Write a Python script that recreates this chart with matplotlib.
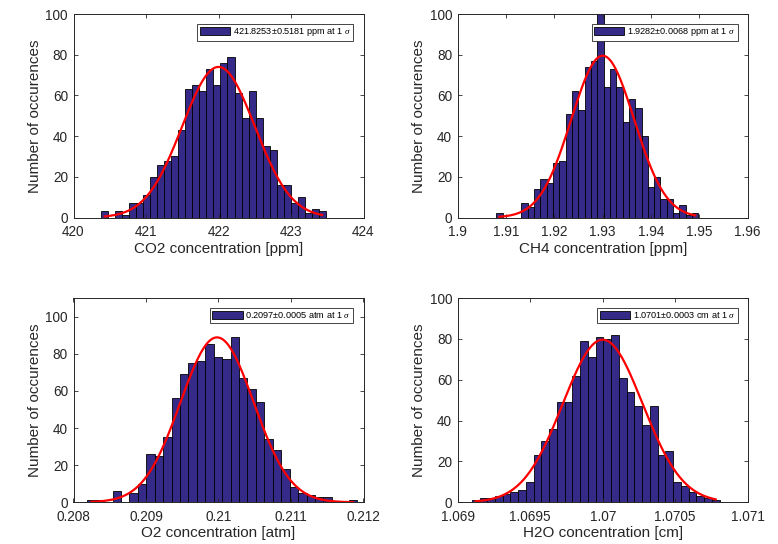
import numpy as np
import matplotlib
matplotlib.use("Agg")
import matplotlib.pyplot as plt
from matplotlib.ticker import FuncFormatter

plt.rcParams['font.family'] = ['Liberation Sans', 'DejaVu Sans']
plt.rcParams['mathtext.fontset'] = 'custom'
plt.rcParams['mathtext.it'] = 'Liberation Serif:italic'
plt.rcParams['mathtext.rm'] = 'Liberation Sans'

# ---- data ----
co2_counts = [3, 0, 3, 1, 7, 7, 11, 20, 26, 28, 30, 43, 63, 65, 62, 73,
              65, 76, 79, 61, 49, 62, 49, 35, 33, 16, 16, 7, 10, 2, 4, 3]
co2_range = (420.382, 423.479)
co2_fit = (422.0, 0.50, 74.0)  # mean, sigma, peak height

ch4_counts = [2, 0, 0, 0, 7, 5, 14, 19, 17, 27, 28, 51, 62, 53, 74, 77,
              104, 64, 73, 64, 47, 58, 54, 40, 15, 20, 9, 9, 2, 6, 1, 2]
ch4_range = (1.90797, 1.94980)
ch4_fit = (1.9300, 0.0065, 79.5)

o2_counts = [1, 1, 0, 6, 0, 5, 10, 26, 25, 35, 56, 69, 75, 76, 85, 78,
             77, 89, 67, 61, 54, 34, 28, 18, 8, 5, 4, 3, 3, 0, 0, 1]
o2_range = (0.208189, 0.211912)
o2_fit = (0.20998, 0.000505, 88.8)

h2o_counts = [1, 2, 2, 3, 4, 5, 6, 10, 23, 30, 36, 49, 49, 62, 79, 71,
              81, 80, 82, 61, 54, 47, 38, 47, 23, 25, 10, 8, 5, 3, 2, 1]
h2o_range = (1.069097, 1.070806)
h2o_fit = (1.0700, 0.000275, 79.6)

legend_labels = [
    "421.8253\u00b10.5181 ppm at 1 $\\it{\\sigma}$",
    "1.9282\u00b10.0068 ppm at 1 $\\it{\\sigma}$",
    "0.2097\u00b10.0005 atm at 1 $\\it{\\sigma}$",
    "1.0701\u00b10.0003 cm at 1 $\\it{\\sigma}$",
]
xlabels = ["CO2 concentration [ppm]", "CH4 concentration [ppm]",
           "O2 concentration [atm]", "H2O concentration [cm]"]
xlims = [(420, 424), (1.9, 1.96), (0.208, 0.212), (1.069, 1.071)]
xticks = [[420, 421, 422, 423, 424],
          [1.9, 1.91, 1.92, 1.93, 1.94, 1.95, 1.96],
          [0.208, 0.209, 0.21, 0.211, 0.212],
          [1.069, 1.0695, 1.07, 1.0705, 1.071]]
ylims = [(0, 100), (0, 100), (0, 110), (0, 100)]
yticks = [0, 20, 40, 60, 80, 100]

counts_all = [co2_counts, ch4_counts, o2_counts, h2o_counts]
ranges_all = [co2_range, ch4_range, o2_range, h2o_range]
fits_all = [co2_fit, ch4_fit, o2_fit, h2o_fit]

bar_color = '#352a87'
axis_color = '#262626'

fig = plt.figure(figsize=(7.78, 5.44), dpi=100)
W, H = 778, 544
boxes = [(73.5, 14, 290, 203.5), (457.7, 14, 290, 203.5),
         (73.5, 298, 290, 204.3), (457.7, 298, 290, 204.3)]

for i in range(4):
    x0, y0, w, h = boxes[i]
    ax = fig.add_axes([x0 / W, 1 - (y0 + h) / H, w / W, h / H])
    counts = np.array(counts_all[i])
    lo, hi = ranges_all[i]
    edges = np.linspace(lo, hi, len(counts) + 1)
    ax.bar(edges[:-1], counts, width=np.diff(edges), align='edge',
           color=bar_color, edgecolor='black', linewidth=0.6,
           label=legend_labels[i])
    mu, sig, pk = fits_all[i]
    centers = 0.5 * (edges[:-1] + edges[1:])
    xs = np.linspace(centers[0], centers[-1], 300)
    ax.plot(xs, pk * np.exp(-0.5 * ((xs - mu) / sig) ** 2), color='red', lw=1.6)

    ax.set_xlim(*xlims[i])
    ax.set_ylim(*ylims[i])
    ax.set_xticks(xticks[i])
    ax.set_yticks(yticks)
    ax.xaxis.set_major_formatter(FuncFormatter(lambda v, p: ('%.4f' % v).rstrip('0').rstrip('.')))
    ax.tick_params(direction='in', length=3, width=0.6, colors=axis_color,
                   labelsize=9.8, top=True, right=True, pad=4)
    ax.tick_params(axis='x', pad=5.2)
    for s in ax.spines.values():
        s.set_color(axis_color)
        s.set_linewidth(0.7)
    ax.set_xlabel(xlabels[i], fontsize=11, color=axis_color, labelpad=2)
    ax.set_ylabel("Number of occurences", fontsize=11, color=axis_color, labelpad=2.5)

    leg = ax.legend(loc='upper right', fontsize=6.6, frameon=True, fancybox=False,
                    framealpha=1, edgecolor=axis_color, handlelength=3.3,
                    handleheight=0.9, borderpad=0.25, handletextpad=0.3,
                    borderaxespad=1.1)
    leg.get_frame().set_linewidth(0.6)

fig.savefig("out.png", dpi=100)
